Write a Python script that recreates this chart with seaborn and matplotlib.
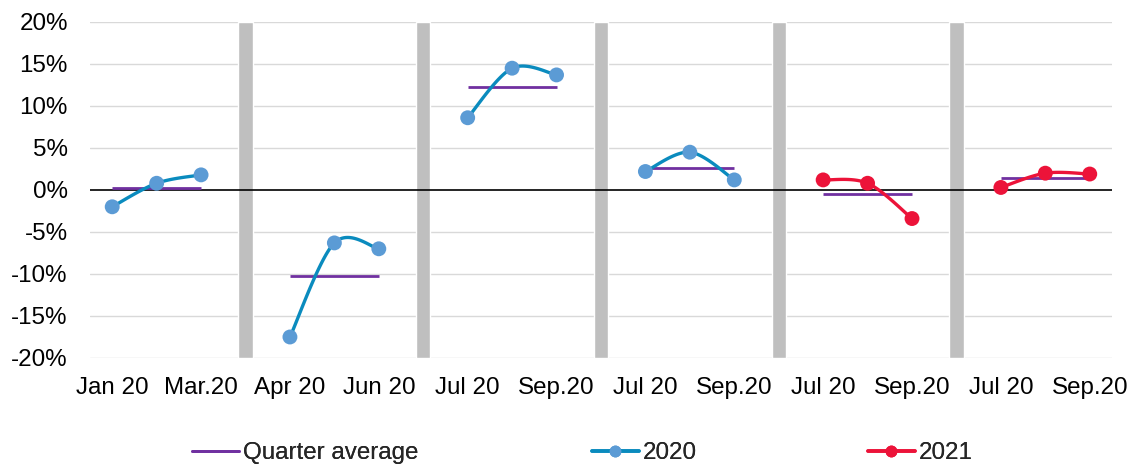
import numpy as np
import pandas as pd
import matplotlib
matplotlib.use("Agg")
import matplotlib.pyplot as plt
from matplotlib.lines import Line2D
import seaborn as sns

# Monthly change (%) per quarter block, three months each
values_2020 = [-2.0, 0.8, 1.8, -17.5, -6.3, -7.0, 8.6, 14.5, 13.7, 2.2, 4.5, 1.2]
values_2021 = [1.2, 0.8, -3.4, 0.3, 2.0, 1.9]
tick_labels = ["Jan 20", "Mar.20", "Apr 20", "Jun 20", "Jul 20", "Sep.20",
               "Jul 20", "Sep.20", "Jul 20", "Sep.20", "Jul 20", "Sep.20"]

C_2020_LINE = "#0A8BBE"
C_2020_MARK = "#5B9BD5"
C_2021 = "#EC1339"
C_AVG = "#7030A0"
C_SEP = "#BFBFBF"
FS = 17.4

sns.set_theme(style="white")
plt.rcParams["font.family"] = ["Liberation Sans", "DejaVu Sans"]

# Build long table: each block has 3 months, followed by a separator slot
rows = []
for series, vals in (("2020", values_2020), ("2021", values_2021)):
    offset = 0 if series == "2020" else len(values_2020) // 3
    for i, v in enumerate(vals):
        block = offset + i // 3
        rows.append({"series": series, "block": block, "month": i % 3,
                     "x": block * 4 + i % 3, "value": v})
df = pd.DataFrame(rows)
n_blocks = df["block"].nunique()
n_slots = n_blocks * 4 - 1

fig = plt.figure(figsize=(11.32, 4.66), dpi=100)
ax = fig.add_axes([0.0795, 0.2318, 0.9028, 0.721])


def smooth(x, y, n=40):
    """Bezier smoothing through points (Catmull-Rom style control points)."""
    x = np.asarray(x, float)
    y = np.asarray(y, float)
    px = np.concatenate([[x[0]], x, [x[-1]]])
    py = np.concatenate([[y[0]], y, [y[-1]]])
    xs, ys = [], []
    t = np.linspace(0, 1, n)
    for i in range(1, len(px) - 2):
        p0 = np.array([px[i], py[i]])
        p3 = np.array([px[i + 1], py[i + 1]])
        c1 = p0 + (np.array([px[i + 1], py[i + 1]]) - np.array([px[i - 1], py[i - 1]])) / 6
        c2 = p3 - (np.array([px[i + 2], py[i + 2]]) - np.array([px[i], py[i]])) / 6
        b = ((1 - t) ** 3)[:, None] * p0 + (3 * (1 - t) ** 2 * t)[:, None] * c1 \
            + (3 * (1 - t) * t ** 2)[:, None] * c2 + (t ** 3)[:, None] * p3
        xs.append(b[:, 0])
        ys.append(b[:, 1])
    return np.concatenate(xs), np.concatenate(ys)


# Grid lines
for yv in np.arange(-20, 21, 5):
    if yv != 0:
        ax.axhline(yv, color="#D9D9D9", lw=1.0, zorder=0)

# Separators between quarter blocks
sep_x = [b * 4 + 3 for b in range(n_blocks - 1)]
ax.bar(sep_x, [40] * len(sep_x), bottom=-20, width=0.32, color=C_SEP, zorder=1)

ax.axhline(0, color="black", lw=1.2, zorder=2)

# Quarter averages and smoothed lines
for (series, block), g in df.groupby(["series", "block"]):
    avg = g["value"].mean()
    ax.hlines(avg, g["x"].min(), g["x"].max(), color=C_AVG, lw=2.0, zorder=3)
    sx, sy = smooth(g["x"], g["value"])
    color = C_2020_LINE if series == "2020" else C_2021
    ax.plot(sx, sy, color=color, lw=2.4, zorder=4, solid_capstyle="round")

sns.scatterplot(data=df, x="x", y="value", hue="series",
                palette={"2020": C_2020_MARK, "2021": C_2021},
                s=115, linewidth=0, legend=False, zorder=5, ax=ax)

ax.set_xlim(-0.5, n_slots - 0.5)
ax.set_ylim(-20, 20)
ax.set_yticks(np.arange(-20, 21, 5))
ax.set_yticklabels([f"{v}%" for v in range(-20, 21, 5)])
tick_pos = [b * 4 + m for b in range(n_blocks) for m in (0, 2)]
ax.set_xticks(tick_pos)
ax.set_xticklabels(tick_labels)
ax.tick_params(axis="both", length=0, labelsize=FS, colors="black")
ax.tick_params(axis="y", pad=16)
ax.tick_params(axis="x", pad=13.5)
ax.set_xlabel("")
ax.set_ylabel("")
for s in ax.spines.values():
    s.set_visible(False)

# Legend entries placed along the bottom edge
legend_items = [
    (Line2D([], [], color=C_AVG, lw=2.0), "Quarter average", 192),
    (Line2D([], [], color=C_2020_LINE, lw=2.6, marker="o", markersize=8.5,
            markerfacecolor=C_2020_MARK, markeredgewidth=0), "2020", 592),
    (Line2D([], [], color=C_2021, lw=2.6, marker="o", markersize=8.5,
            markerfacecolor=C_2021, markeredgewidth=0), "2021", 868),
]
W, H = fig.get_size_inches() * fig.dpi
for handle, label, xpix in legend_items:
    leg = fig.legend([handle], [label], loc="center left",
                     bbox_to_anchor=(xpix / W, 13 / H), frameon=False,
                     fontsize=FS, handlelength=1.94, handletextpad=0.17,
                     borderaxespad=0, borderpad=0)
    fig.add_artist(leg)

fig.savefig("out.png", dpi=100)
